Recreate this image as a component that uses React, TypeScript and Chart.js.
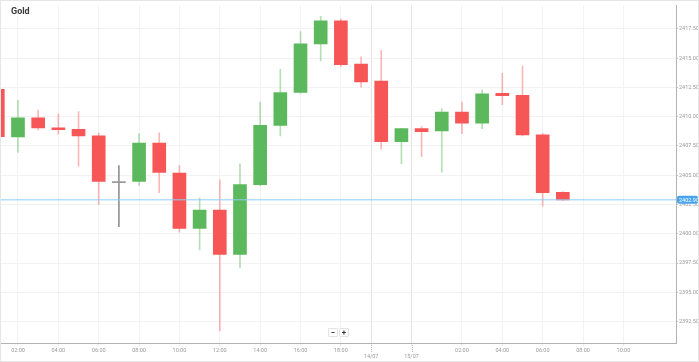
import React, { useEffect, useRef } from 'react';
import { Chart, registerables } from 'chart.js';

Chart.register(...registerables);

// Hour slots (0 = 02:00 on the first day shown)
const SLOTS = [-1, 0, 1, 2, 3, 4, 5, 6, 7, 8, 9, 10, 11, 12, 13, 14, 15, 16, 17, 18, 19, 20, 21, 22, 23, 24, 25, 26, 27];
const OPEN = [2412.35, 2408.28, 2409.91, 2409.06, 2408.92, 2408.36, 2404.42, 2404.48, 2407.74, 2405.18, 2400.46, 2402.03, 2398.24, 2404.19, 2409.26, 2412.07, 2416.23, 2418.2, 2414.49, 2413.05, 2407.88, 2408.98, 2408.78, 2410.39, 2409.46, 2411.99, 2411.82, 2408.45, 2403.55];
const HIGH = [2412.6, 2411.4, 2410.56, 2410.24, 2410.44, 2408.62, 2405.83, 2408.56, 2408.62, 2405.83, 2403.07, 2404.62, 2405.97, 2411.26, 2414.04, 2417.27, 2418.57, 2418.34, 2415.11, 2415.67, 2409.0, 2409.15, 2410.67, 2411.26, 2412.29, 2413.7, 2414.32, 2408.58, 2403.6];
const LOW = [2408.0, 2406.95, 2408.87, 2408.5, 2405.77, 2402.51, 2400.6, 2404.14, 2403.52, 2400.14, 2398.63, 2391.71, 2397.11, 2404.08, 2408.36, 2412.0, 2414.77, 2414.27, 2412.52, 2407.23, 2405.97, 2406.59, 2405.27, 2408.56, 2408.98, 2411.03, 2408.36, 2402.37, 2402.85];
const CLOSE = [2408.3, 2409.91, 2409.04, 2408.89, 2408.36, 2404.48, 2404.42, 2407.74, 2405.24, 2400.46, 2402.03, 2398.24, 2404.21, 2409.26, 2412.07, 2416.23, 2418.2, 2414.44, 2412.97, 2407.88, 2408.98, 2408.73, 2410.39, 2409.46, 2411.96, 2411.79, 2408.45, 2403.52, 2402.9];

const LAST_PRICE = 2402.9;

const TICK_SLOTS = [0, 2, 4, 6, 8, 10, 12, 14, 16, 17.5, 19.5, 22, 24, 26, 28, 30];
const TICK_LABELS = ['02:00', '04:00', '06:00', '08:00', '10:00', '12:00', '14:00', '16:00', '18:00', '14/07', '15/07', '02:00', '04:00', '06:00', '08:00', '10:00'];

const Y_TICKS = [2392.5, 2395, 2397.5, 2400, 2402.5, 2405, 2407.5, 2410, 2412.5, 2415, 2417.5];

const X_MIN = -0.842;
const X_MAX = 32.607;
const Y_MIN = 2390.67;
const Y_MAX = 2419.52;

const UP = '#5cb85c';
const DOWN = '#f65656';
const FLAT = '#9a9a9a';
const UP_WICK = 'rgba(92,184,92,0.45)';
const DOWN_WICK = 'rgba(246,86,86,0.42)';
const FLAT_WICK = 'rgba(110,110,110,0.75)';

const isDate = (v: number) => {
  const i = TICK_SLOTS.indexOf(v);
  return i >= 0 && TICK_LABELS[i].includes('/');
};

const overlayPlugin = {
  id: 'overlay',
  afterDraw(chart: any) {
    const { ctx, chartArea, scales } = chart;
    const x = scales.x;
    const y = scales.y;
    ctx.save();
    // dotted date tick marks
    ctx.strokeStyle = '#b5b5b5';
    ctx.lineWidth = 1;
    ctx.setLineDash([1, 1]);
    TICK_SLOTS.forEach((v) => {
      if (!isDate(v)) return;
      const px = Math.round(x.getPixelForValue(v)) + 0.5;
      ctx.beginPath();
      ctx.moveTo(px, chartArea.bottom);
      ctx.lineTo(px, chartArea.bottom + 9);
      ctx.stroke();
    });
    ctx.setLineDash([]);
    // last price label
    const py = y.getPixelForValue(LAST_PRICE);
    const bx = chartArea.right + 1;
    const bw = 21;
    const bh = 8;
    ctx.fillStyle = '#48a4ee';
    ctx.beginPath();
    (ctx as any).roundRect(bx, py - bh / 2, bw, bh, 2);
    ctx.fill();
    ctx.fillStyle = '#ffffff';
    ctx.font = '5.5px Roboto, sans-serif';
    ctx.textAlign = 'left';
    ctx.textBaseline = 'middle';
    ctx.fillText(LAST_PRICE.toFixed(2), bx + 2, py + 0.5);
    ctx.restore();
  },
};

export default function App() {
  const ref = useRef<HTMLCanvasElement>(null);

  useEffect(() => {
    document.body.style.margin = '0';
    const canvas = ref.current;
    if (!canvas) return;

    const dir = SLOTS.map((_, i) => Math.sign(CLOSE[i] - OPEN[i]));
    const bodyColors = dir.map((d) => (d > 0 ? UP : d < 0 ? DOWN : FLAT));
    const wickColors = dir.map((d) => (d > 0 ? UP_WICK : d < 0 ? DOWN_WICK : FLAT_WICK));
    const bodies = SLOTS.map((s, i) => {
      let lo = Math.min(OPEN[i], CLOSE[i]);
      let hi = Math.max(OPEN[i], CLOSE[i]);
      if (hi - lo < 0.1) {
        const m = (hi + lo) / 2;
        lo = m - 0.05;
        hi = m + 0.05;
      }
      return { x: s, y: [lo, hi] };
    });
    const wicks = SLOTS.map((s, i) => ({ x: s, y: [LOW[i], HIGH[i]] }));

    const tickFont = { family: 'Roboto, sans-serif', size: 5.5 };

    const chart = new Chart(canvas, {
      type: 'bar',
      data: {
        datasets: [
          {
            type: 'line',
            data: [
              { x: X_MIN, y: LAST_PRICE },
              { x: X_MAX, y: LAST_PRICE },
            ],
            borderColor: '#8fcdf7',
            borderWidth: 1,
            pointRadius: 0,
            order: 0,
          } as any,
          {
            data: bodies as any,
            backgroundColor: bodyColors,
            borderWidth: 0,
            barThickness: 13,
            grouped: false,
            order: 1,
          },
          {
            data: wicks as any,
            backgroundColor: wickColors,
            borderWidth: 0,
            barThickness: 1,
            grouped: false,
            order: 2,
          },
        ],
      },
      options: {
        animation: false,
        responsive: false,
        devicePixelRatio: 1,
        layout: { padding: 0 },
        plugins: {
          legend: { display: false },
          tooltip: { enabled: false },
          title: { display: false },
        },
        scales: {
          x: {
            type: 'linear',
            min: X_MIN,
            max: X_MAX,
            offset: false,
            afterBuildTicks: (scale: any) => {
              scale.ticks = TICK_SLOTS.map((v) => ({ value: v }));
            },
            afterFit: (scale: any) => {
              scale.height = 18;
            },
            grid: {
              offset: false,
              color: (c: any) => (c.tick && isDate(c.tick.value) ? '#e4e4e4' : '#f3f3f3'),
              tickColor: '#ececec',
              tickLength: 3,
            },
            border: { color: '#b3b3b3', width: 1 },
            ticks: {
              autoSkip: false,
              maxRotation: 0,
              padding: 1,
              color: '#9a9a9a',
              font: tickFont,
              callback: (v: any) => {
                const i = TICK_SLOTS.indexOf(Number(v));
                if (i < 0) return '';
                const lab = TICK_LABELS[i];
                return lab.includes('/') ? ['', lab] : lab;
              },
            },
          } as any,
          y: {
            type: 'linear',
            position: 'right',
            min: Y_MIN,
            max: Y_MAX,
            afterBuildTicks: (scale: any) => {
              scale.ticks = Y_TICKS.map((v) => ({ value: v }));
            },
            afterFit: (scale: any) => {
              scale.width = 22;
            },
            grid: {
              color: '#f2f2f2',
              tickColor: '#c8c8c8',
              tickLength: 2,
            },
            border: { color: '#b3b3b3', width: 1 },
            ticks: {
              padding: 1,
              color: '#9a9a9a',
              font: tickFont,
              callback: (v: any) => Number(v).toFixed(2),
            },
          },
        },
      },
      plugins: [overlayPlugin],
    });

    return () => chart.destroy();
  }, []);

  const btn: React.CSSProperties = {
    width: 10,
    height: 9,
    boxSizing: 'border-box',
    border: '1px solid #e2e2e2',
    background: '#fff',
    color: '#333',
    fontFamily: 'Roboto, sans-serif',
    fontWeight: 700,
    fontSize: 8,
    lineHeight: '7px',
    textAlign: 'center',
    borderRadius: 1,
  };

  return (
    <div
      style={{
        position: 'relative',
        width: 699,
        height: 362,
        boxSizing: 'border-box',
        border: '1px solid #e6e6e6',
        background: '#fff',
        overflow: 'hidden',
      }}
    >
      <canvas ref={ref} width={697} height={360} style={{ position: 'absolute', left: 0, top: 0, width: 697, height: 360 }} />
      <div
        style={{
          position: 'absolute',
          left: 10,
          top: 5,
          fontFamily: 'Roboto, sans-serif',
          fontWeight: 700,
          fontSize: 9,
          color: '#3a3a3a',
        }}
      >
        Gold
      </div>
      <div style={{ position: 'absolute', left: 327, top: 327, display: 'flex', gap: 1 }}>
        <div style={btn}>−</div>
        <div style={btn}>+</div>
      </div>
    </div>
  );
}
